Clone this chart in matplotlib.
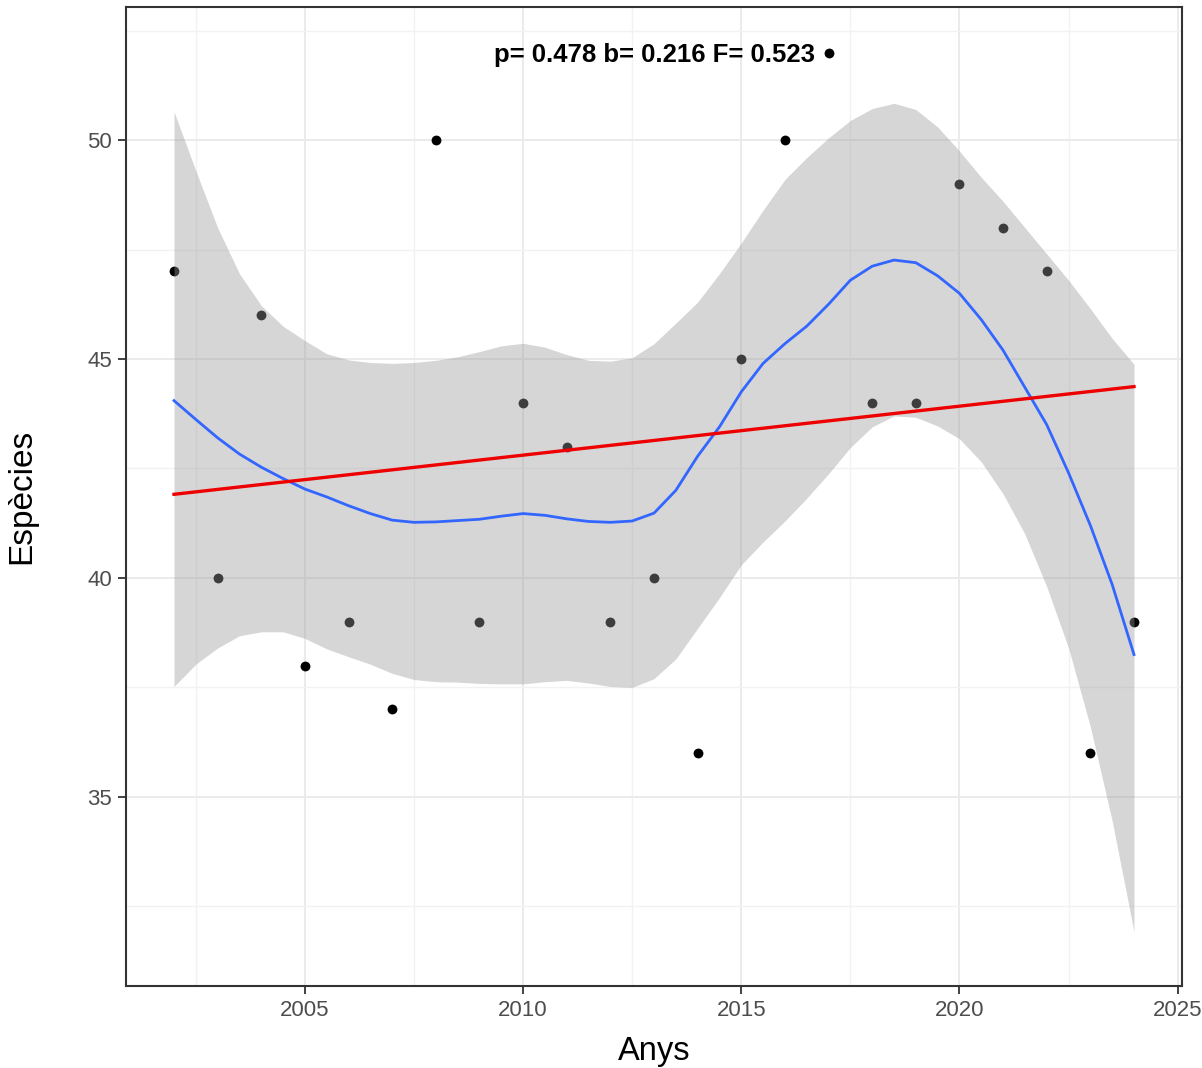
import matplotlib
matplotlib.use("Agg")
import matplotlib.pyplot as plt
import numpy as np

# ---- data ----
years = [2002, 2003, 2004, 2005, 2006, 2007, 2008, 2009, 2010, 2011, 2012, 2013,
         2014, 2015, 2016, 2017, 2018, 2019, 2020, 2021, 2022, 2023, 2024]
species = [47, 40, 46, 38, 39, 37, 50, 39, 44, 43, 39, 40,
           36, 45, 50, 52, 44, 44, 49, 48, 47, 36, 39]

smooth_x = [2002.0, 2002.5, 2003.0, 2003.5, 2004.0, 2004.5, 2005.0, 2005.5, 2006.0, 2006.5,
            2007.0, 2007.5, 2008.0, 2008.5, 2009.0, 2009.5, 2010.0, 2010.5, 2011.0, 2011.5,
            2012.0, 2012.5, 2013.0, 2013.5, 2014.0, 2014.5, 2015.0, 2015.5, 2016.0, 2016.5,
            2017.0, 2017.5, 2018.0, 2018.5, 2019.0, 2019.5, 2020.0, 2020.5, 2021.0, 2021.5,
            2022.0, 2022.5, 2023.0, 2023.5, 2024.0]
smooth_fit = [44.05, 43.62, 43.2, 42.83, 42.53, 42.27, 42.03, 41.85, 41.65, 41.47,
              41.32, 41.27, 41.28, 41.31, 41.34, 41.41, 41.47, 41.43, 41.35, 41.29,
              41.27, 41.30, 41.48, 42.0, 42.78, 43.45, 44.25, 44.9, 45.35, 45.75,
              46.25, 46.8, 47.12, 47.26, 47.2, 46.9, 46.5, 45.9, 45.2, 44.35,
              43.5, 42.4, 41.2, 39.85, 38.25]
smooth_upper = [50.65, 49.3, 48.0, 46.95, 46.22, 45.75, 45.42, 45.12, 44.98, 44.92,
                44.90, 44.92, 44.97, 45.05, 45.17, 45.3, 45.36, 45.27, 45.1, 44.97,
                44.95, 45.03, 45.35, 45.82, 46.3, 46.95, 47.65, 48.4, 49.1, 49.6,
                50.05, 50.45, 50.72, 50.84, 50.7, 50.3, 49.75, 49.15, 48.6, 48.0,
                47.4, 46.8, 46.15, 45.47, 44.88]
smooth_lower = [37.52, 38.03, 38.4, 38.68, 38.77, 38.77, 38.62, 38.38, 38.2, 38.03,
                37.82, 37.68, 37.63, 37.62, 37.59, 37.58, 37.58, 37.63, 37.66, 37.6,
                37.52, 37.5, 37.7, 38.15, 38.85, 39.55, 40.3, 40.82, 41.3, 41.82,
                42.38, 42.98, 43.45, 43.7, 43.67, 43.47, 43.18, 42.65, 41.92, 41.0,
                39.8, 38.4, 36.6, 34.45, 31.92]

# linear trend: endpoints
trend_x = [2002, 2024]
trend_y = [41.91, 44.37]

annot_text = "p= 0.478 b= 0.216 F= 0.523"
annot_pos = (2013, 52)

x_ticks = [2005, 2010, 2015, 2020, 2025]
y_ticks = [35, 40, 45, 50]

# ---- figure ----
plt.rcParams['font.family'] = ['Liberation Sans', 'DejaVu Sans']
fig = plt.figure(figsize=(12.02, 10.68), dpi=100)
ax = fig.add_axes([126 / 1202, 82 / 1068, (1182 - 126) / 1202, (986 - 7) / 1068])

ax.set_xlim(2000.9, 2025.1)
ax.set_ylim(30.68, 53.04)

ax.set_xticks(x_ticks)
ax.set_yticks(y_ticks)
ax.set_xticks([2002.5, 2007.5, 2012.5, 2017.5, 2022.5], minor=True)
ax.set_yticks([32.5, 37.5, 42.5, 47.5, 52.5], minor=True)
ax.grid(which='major', color='#EBEBEB', linewidth=1.4, zorder=0)
ax.grid(which='minor', color='#F2F2F2', linewidth=1.0, zorder=0)
ax.set_axisbelow(True)
ax.tick_params(which='major', direction='out', length=6, width=1.3, color='#333333',
               labelsize=16, labelcolor='#4D4D4D', pad=4)
ax.tick_params(which='minor', length=0)
for s in ax.spines.values():
    s.set_color('#333333')
    s.set_linewidth(1.5)

ax.scatter(years, species, s=50, color='black', zorder=2, linewidths=0)
ax.fill_between(smooth_x, smooth_lower, smooth_upper, color='#999999', alpha=0.4,
                linewidth=0, zorder=3)
ax.plot(smooth_x, smooth_fit, color='#3366FF', linewidth=2.0, zorder=4)
ax.plot(trend_x, trend_y, color='#EE0000', linewidth=2.4, zorder=5)

ax.text(annot_pos[0], annot_pos[1], annot_text, ha='center', va='center_baseline',
        fontsize=18.5, fontweight='bold', color='black', zorder=6)

ax.set_xlabel('Anys', fontsize=23.5, color='black', labelpad=11)
ax.set_ylabel('Espècies', fontsize=24, color='black', labelpad=36)

fig.savefig('out.png', dpi=100)
